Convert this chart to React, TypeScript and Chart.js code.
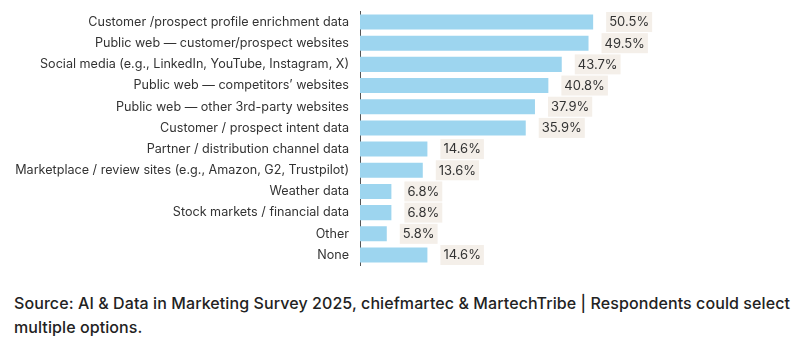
import React, { useEffect, useRef } from "react";
import { Chart, registerables } from "chart.js";

Chart.register(...registerables);

const categories = [
  "Customer /prospect profile enrichment data",
  "Public web — customer/prospect websites",
  "Social media (e.g., LinkedIn, YouTube, Instagram, X)",
  "Public web — competitors’ websites",
  "Public web — other 3rd-party websites",
  "Customer / prospect intent data",
  "Partner / distribution channel data",
  "Marketplace / review sites (e.g., Amazon, G2, Trustpilot)",
  "Weather data",
  "Stock markets / financial data",
  "Other",
  "None",
];

const values = [50.5, 49.5, 43.7, 40.8, 37.9, 35.9, 14.6, 13.6, 6.8, 6.8, 5.8, 14.6];

const valueLabels = values.map((v) => v.toFixed(1) + "%");

const sourceText =
  "Source: AI & Data in Marketing Survey 2025, chiefmartec & MartechTribe | Respondents could select multiple options.";

const FONT = "Inter, 'DejaVu Sans', sans-serif";

const labelPlugin = {
  id: "valueLabels",
  afterDatasetsDraw(chart: any) {
    const ctx = chart.ctx;
    const meta = chart.getDatasetMeta(0);
    ctx.save();
    ctx.font = `400 13px ${FONT}`;
    ctx.textBaseline = "middle";
    ctx.textAlign = "left";
    meta.data.forEach((bar: any, i: number) => {
      const text = valueLabels[i];
      const w = ctx.measureText(text).width;
      const x = bar.x + 13;
      const y = bar.y;
      ctx.fillStyle = "#f4efe9";
      ctx.fillRect(x, y - 10, w + 6, 20);
      ctx.fillStyle = "#333333";
      ctx.fillText(text, x + 3, y + 0.5);
    });
    ctx.restore();
  },
};

export default function App() {
  const ref = useRef<HTMLCanvasElement | null>(null);

  useEffect(() => {
    document.body.style.margin = "0";
    if (!ref.current) return;
    const chart = new Chart(ref.current, {
      type: "bar",
      data: {
        labels: categories,
        datasets: [
          {
            data: values,
            backgroundColor: "#9dd5ef",
            borderWidth: 0,
            barPercentage: 0.71,
            categoryPercentage: 1,
          },
        ],
      },
      options: {
        indexAxis: "y",
        animation: false,
        responsive: false,
        maintainAspectRatio: false,
        layout: { padding: { left: 0, right: 163, top: 11.4, bottom: 17.4 } },
        plugins: {
          legend: { display: false },
          tooltip: { enabled: false },
        },
        scales: {
          x: {
            display: false,
            min: 0,
            max: 60,
          },
          y: {
            grid: {
              display: true,
              drawOnChartArea: false,
              drawTicks: true,
              tickLength: 11,
              color: "rgba(0,0,0,0)",
            },
            border: { display: true, color: "#555555", width: 1 },
            ticks: {
              padding: 0,
              color: "#333333",
              font: { family: FONT, size: 12.6 },
            },
            afterFit: (scale: any) => {
              scale.width = 360;
            },
          },
        },
      },
      plugins: [labelPlugin],
    });
    return () => chart.destroy();
  }, []);

  return (
    <div style={{ width: 800, height: 352, position: "relative", background: "#fff" }}>
      <canvas ref={ref} width={800} height={283} style={{ display: "block" }} />
      <div
        style={{
          position: "absolute",
          left: 14,
          top: 291,
          width: 786,
          fontFamily: FONT,
          fontSize: 16,
          fontWeight: 500,
          letterSpacing: "0.09px",
          lineHeight: "24px",
          color: "#222",
        }}
      >
        {sourceText}
      </div>
    </div>
  );
}
